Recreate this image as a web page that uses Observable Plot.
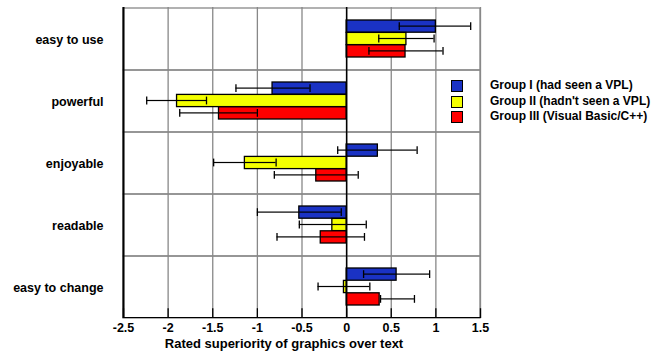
<!DOCTYPE html>
<html>
<head>
<meta charset="utf-8">
<script src="https://cdn.jsdelivr.net/npm/d3@7"></script>
<script src="https://cdn.jsdelivr.net/npm/@observablehq/plot@0.6"></script>
<style>
  html, body { margin: 0; padding: 0; background: #fff; }
  #wrap { position: relative; width: 663px; height: 358px; font-family: "Liberation Sans", Arial, sans-serif; }
  #legend { position: absolute; left: 451px; top: 78px; font-size: 12px; font-weight: bold; color: #000; }
  .item { position: relative; height: 15.6px; }
  .sw { position: absolute; left: 0; top: 2px; width: 10px; height: 10px; border: 1px solid #000; }
  .lab { position: absolute; left: 39px; top: 0; white-space: nowrap; line-height: 15px; }
</style>
</head>
<body>
<div id="wrap"><div id="chart"></div><div id="legend"></div></div>
<script>
const categories = ["easy to use", "powerful", "enjoyable", "readable", "easy to change"];
const groups = ["Group I (had seen a VPL)", "Group II (hadn't seen a VPL)", "Group III (Visual Basic/C++)"];
const colors = ["#1a32c4", "#f4ff00", "#ff0000"];

const groupI   = [1.00, -0.83, 0.35, -0.53, 0.56];
const groupII  = [0.67, -1.90, -1.14, -0.16, -0.03];
const groupIII = [0.66, -1.43, -0.34, -0.29, 0.37];

const groupILow    = [0.59, -1.24, -0.10, -1.00, 0.19];
const groupIHigh   = [1.39, -0.41, 0.79, -0.06, 0.93];
const groupIILow   = [0.36, -2.24, -1.49, -0.53, -0.32];
const groupIIHigh  = [0.98, -1.57, -0.79, 0.22, 0.26];
const groupIIILow  = [0.25, -1.87, -0.81, -0.78, 0.38];
const groupIIIHigh = [1.08, -1.00, 0.13, 0.20, 0.76];

const xTicks = [-2.5, -2, -1.5, -1, -0.5, 0, 0.5, 1, 1.5];
const xLabel = "Rated superiority of graphics over text";

const values = [groupI, groupII, groupIII];
const lows = [groupILow, groupIILow, groupIIILow];
const highs = [groupIHigh, groupIIHigh, groupIIIHigh];

const W = 663, H = 358, mT = 7, mB = 40, mL = 123, mR = 183;
const band = (H - mT - mB) / categories.length;
const barTop = 12, barH = 12.4;

const marks = [];
// background cells (horizontal gridlines + right border)
marks.push(Plot.barX(categories, {x1: -2.5, x2: 1.5, y: d => d, fill: "none", stroke: "#888", strokeWidth: 1.3}));
// vertical gridlines
marks.push(Plot.ruleX(xTicks, {stroke: "#888", strokeWidth: 1.3}));

values.forEach((vals, g) => {
  const rows = categories.map((c, i) => ({c, v: vals[i], lo: lows[g][i], hi: highs[g][i]}));
  const t = barTop + g * barH;
  const b = band - t - barH;
  marks.push(Plot.barX(rows, {x1: 0, x2: "v", y: "c", fill: colors[g], stroke: "#000", strokeWidth: 1.3, insetTop: t, insetBottom: b}));
});
// zero line
marks.push(Plot.ruleX([0], {stroke: "#000", strokeWidth: 1.5}));
// error bars
values.forEach((vals, g) => {
  const rows = categories.map((c, i) => ({c, lo: lows[g][i], hi: highs[g][i]}));
  const mid = barTop + g * barH + barH / 2;
  marks.push(Plot.barX(rows, {x1: "lo", x2: "hi", y: "c", fill: "#000", insetTop: mid - 0.7, insetBottom: band - mid - 0.7}));
  marks.push(Plot.tickX(rows, {x: "lo", y: "c", stroke: "#000", strokeWidth: 1.3, insetTop: mid - 4, insetBottom: band - mid - 4}));
  marks.push(Plot.tickX(rows, {x: "hi", y: "c", stroke: "#000", strokeWidth: 1.3, insetTop: mid - 4, insetBottom: band - mid - 4}));
});
// bottom axis line and inward ticks
const last = [categories[categories.length - 1]];
marks.push(Plot.barX(last, {x1: -2.5, x2: 1.5, y: d => d, fill: "#000", insetTop: band - 1.2}));
marks.push(Plot.tickX(xTicks, {x: d => d, y: () => categories[categories.length - 1], stroke: "#000", strokeWidth: 1.3, insetTop: band - 10}));
// left axis line
marks.push(Plot.ruleX([-2.5], {stroke: "#000", strokeWidth: 2}));
// x title
marks.push(Plot.text([xLabel], {frameAnchor: "bottom", dy: 29, dx: -18, fontSize: 13, fontWeight: "bold", fill: "#000"}));

const chart = Plot.plot({
  width: W, height: H,
  marginTop: mT, marginBottom: mB, marginLeft: mL, marginRight: mR,
  style: {fontFamily: "Liberation Sans, Arial, sans-serif", fontSize: "12.5px", fontWeight: "bold", color: "#000", background: "#fff"},
  x: {domain: [-2.5, 1.5], ticks: xTicks, tickFormat: d => String(d), tickSize: 0, tickPadding: 5, label: null},
  y: {domain: categories, padding: 0, tickSize: 0, tickPadding: 20, label: null},
  marks
});
document.getElementById("chart").appendChild(chart);

const legend = document.getElementById("legend");
groups.forEach((g, i) => {
  const item = document.createElement("div");
  item.className = "item";
  const sw = document.createElement("div");
  sw.className = "sw";
  sw.style.background = colors[i];
  const lab = document.createElement("div");
  lab.className = "lab";
  lab.textContent = g;
  item.appendChild(sw); item.appendChild(lab);
  legend.appendChild(item);
});
</script>
</body>
</html>
